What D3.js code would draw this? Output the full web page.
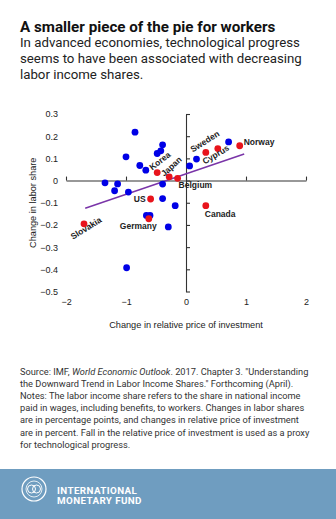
<!DOCTYPE html>
<html>
<head>
<meta charset="utf-8">
<script src="https://cdn.jsdelivr.net/npm/d3@7"></script>
<style>
  html, body { margin: 0; padding: 0; background: #fff; }
  svg { display: block; }
</style>
</head>
<body>
<svg id="chart" width="336" height="519"></svg>
<script>
// ---------- data ----------
const xTicks = [-2, -1, 0, 1, 2];
const yTicks = [-0.5, -0.4, -0.3, -0.2, -0.1, 0, 0.1, 0.2, 0.3];

const otherX = [-1.35, -1.14, -1.19, -0.96, -1.0, -0.85, -0.77, -0.67, -0.48, -0.42, -0.39, -0.39, -0.39, -0.18, -0.66, -0.60, -0.295, -0.99, 0.06, 0.175, 0.71];
const otherY = [-0.01, -0.015, -0.046, -0.052, 0.107, 0.218, 0.068, 0.047, 0.122, 0.134, 0.161, -0.016, -0.081, -0.113, -0.157, -0.157, -0.209, -0.393, 0.066, 0.097, 0.174];

const namedCountries = ["Korea", "Japan", "Belgium", "US", "Germany", "Slovakia", "Sweden", "Cyprus", "Norway", "Canada"];
const namedX = [-0.48, -0.28, -0.14, -0.59, -0.62, -1.70, 0.33, 0.53, 0.895, 0.33];
const namedY = [0.036, 0.017, 0.010, -0.083, -0.172, -0.195, 0.127, 0.144, 0.157, -0.113];

const trendX = [-1.68, 0.97];
const trendY = [-0.125, 0.12];

const titleText = "A smaller piece of the pie for workers";
const subtitleLines = ["In advanced economies, technological progress", "seems to have been associated with decreasing", "labor income shares."];
const xTitle = "Change in relative price of investment";
const yTitle = "Change in labor share";

// ---------- layout (not data) ----------
const labelLayout = {
  Korea:    {dx: -5,  dy: -2, rot: -38, anchor: "start"},
  Japan:    {dx: -5,  dy: 0,  rot: -42, anchor: "start"},
  Belgium:  {dx: 1,   dy: 10, rot: 0,   anchor: "start"},
  US:       {dx: -5,  dy: 3,  rot: 0,   anchor: "end"},
  Germany:  {dx: -29, dy: 10, rot: 0,   anchor: "start"},
  Slovakia: {dx: -11, dy: 16, rot: -32, anchor: "start"},
  Sweden:   {dx: -13, dy: 0,  rot: -32, anchor: "start"},
  Cyprus:   {dx: -13, dy: 16, rot: -31, anchor: "start"},
  Norway:   {dx: 4,   dy: -1, rot: 0,   anchor: "start"},
  Canada:   {dx: -1,  dy: 11, rot: 0,   anchor: "start"}
};

const svg = d3.select("#chart");
const chartFont = "'Liberation Sans', Arial, sans-serif";
const textFont = "Roboto, 'Noto Sans', sans-serif";

// ---------- header ----------
svg.append("text").attr("x", 20).attr("y", 32)
  .attr("font-family", textFont).attr("font-weight", 700).attr("font-size", 15.2)
  .attr("fill", "#111").text(titleText);
svg.append("g").selectAll("text").data(subtitleLines).join("text")
  .attr("x", 20).attr("y", (d, i) => 47 + i * 16)
  .attr("font-family", textFont).attr("font-size", 13.25).attr("fill", "#222")
  .text(d => d);

// ---------- scales ----------
const x = d3.scaleLinear().domain([-2, 2]).range([66, 306]);
const y = d3.scaleLinear().domain([-0.5, 0.3]).range([291.5, 114]);

const axisColor = "#333";

// y axis line at x=0 with ticks pointing right
const gy = svg.append("g").attr("transform", `translate(${x(0)},0)`)
  .call(d3.axisRight(y).tickValues(yTicks).tickSizeInner(4).tickSizeOuter(0).tickFormat(""));
gy.selectAll("path, line").attr("stroke", axisColor).attr("stroke-width", 1.1);

// x axis line at y=0 with ticks pointing up
const gx = svg.append("g").attr("transform", `translate(0,${y(0)})`)
  .call(d3.axisTop(x).tickValues(xTicks).tickSizeInner(4).tickSizeOuter(0).tickFormat(""));
gx.selectAll("path, line").attr("stroke", axisColor).attr("stroke-width", 1.1);

// tick labels at the edges
const gyl = svg.append("g").attr("transform", "translate(60,0)")
  .call(d3.axisLeft(y).tickValues(yTicks).tickSize(0).tickPadding(2).tickFormat(d => d === 0 ? "0" : d3.format(".1f")(d)));
gyl.select(".domain").remove();
gyl.selectAll("text").attr("font-family", chartFont).attr("font-size", 9).attr("fill", "#222");

const gxl = svg.append("g").attr("transform", "translate(0,299)")
  .call(d3.axisBottom(x).tickValues(xTicks).tickSize(0).tickPadding(0).tickFormat(d3.format("d")));
gxl.select(".domain").remove();
gxl.selectAll("text").attr("font-family", chartFont).attr("font-size", 9).attr("fill", "#222");

// axis titles
svg.append("text").attr("x", x(0)).attr("y", 328).attr("text-anchor", "middle")
  .attr("font-family", chartFont).attr("font-size", 9.2).attr("fill", "#222").text(xTitle);
svg.append("text").attr("transform", `translate(36,${y(-0.1)}) rotate(-90)`).attr("text-anchor", "middle")
  .attr("font-family", chartFont).attr("font-size", 9.2).attr("fill", "#222").text(yTitle);

// trend line
svg.append("line")
  .attr("x1", x(trendX[0])).attr("y1", y(trendY[0]))
  .attr("x2", x(trendX[1])).attr("y2", y(trendY[1]))
  .attr("stroke", "#7a35a8").attr("stroke-width", 1.5);

// points
const others = otherX.map((v, i) => ({x: v, y: otherY[i]}));
svg.append("g").selectAll("circle").data(others).join("circle")
  .attr("cx", d => x(d.x)).attr("cy", d => y(d.y)).attr("r", 3.4).attr("fill", "#0000e6");

const named = namedCountries.map((n, i) => ({name: n, x: namedX[i], y: namedY[i]}));
svg.append("g").selectAll("circle").data(named).join("circle")
  .attr("cx", d => x(d.x)).attr("cy", d => y(d.y)).attr("r", 3.4).attr("fill", "#e8141c");

svg.append("g").selectAll("text").data(named).join("text")
  .attr("transform", d => {
    const L = labelLayout[d.name];
    return `translate(${x(d.x) + L.dx},${y(d.y) + L.dy}) rotate(${L.rot})`;
  })
  .attr("text-anchor", d => labelLayout[d.name].anchor)
  .attr("font-family", chartFont).attr("font-weight", 700).attr("font-size", 8.5).attr("fill", "#222")
  .text(d => d.name);

// ---------- source / notes ----------
const noteLines = [
  [{t: "Source: IMF, "}, {t: "World Economic Outlook", i: true}, {t: ". 2017. Chapter 3. \"Understanding"}],
  [{t: "the Downward Trend in Labor Income Shares.\" Forthcoming (April)."}],
  [{t: "Notes: The labor income share refers to the share in national income"}],
  [{t: "paid in wages, including benefits, to workers. Changes in labor shares"}],
  [{t: "are in percentage points, and changes in relative price of investment"}],
  [{t: "are in percent. Fall in the relative price of investment is used as a proxy"}],
  [{t: "for technological progress."}]
];
const notes = svg.append("g").attr("font-family", textFont).attr("font-size", 9.25).attr("fill", "#333");
noteLines.forEach((parts, i) => {
  const t = notes.append("text").attr("x", 20).attr("y", 375 + i * 12.1);
  parts.forEach(p => t.append("tspan").attr("font-style", p.i ? "italic" : null).text(p.t));
});

// ---------- footer ----------
svg.append("rect").attr("x", 0).attr("y", 469).attr("width", 336).attr("height", 50).attr("fill", "#6f9dc0");
const logo = svg.append("g").attr("transform", "translate(34,489)").attr("fill", "none").attr("stroke", "#fff");
logo.append("circle").attr("r", 12).attr("stroke-width", 1.2);
logo.append("circle").attr("r", 8).attr("stroke-width", 0.8);
logo.append("circle").attr("cx", -2.5).attr("cy", 0).attr("r", 4).attr("stroke-width", 1);
logo.append("circle").attr("cx", 2.5).attr("cy", 0).attr("r", 4).attr("stroke-width", 1);
svg.append("g").attr("font-family", textFont).attr("font-weight", 700).attr("font-size", 9.8).attr("fill", "#fff")
  .attr("letter-spacing", 0.4)
  .selectAll("text").data(["INTERNATIONAL", "MONETARY FUND"]).join("text")
  .attr("x", 57).attr("y", (d, i) => 494 + i * 9.5).text(d => d);
</script>
</body>
</html>
